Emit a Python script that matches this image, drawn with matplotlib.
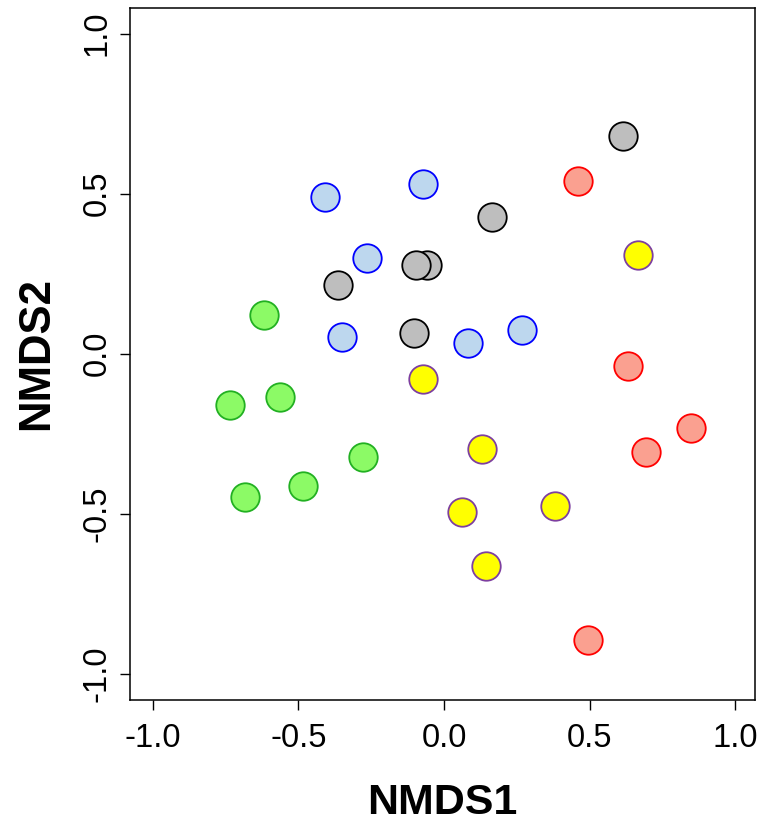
import numpy as np
from matplotlib import pyplot as plt

plt.rcParams['font.family'] = ['Liberation Sans', 'DejaVu Sans']

# NMDS scores, one group per colour
gray_x = [0.614, 0.165, -0.058, -0.096, -0.364, -0.103]
gray_y = [0.680, 0.427, 0.277, 0.277, 0.215, 0.065]

blue_x = [-0.409, -0.072, -0.264, -0.350, 0.082, 0.268]
blue_y = [0.490, 0.530, 0.299, 0.052, 0.033, 0.074]

green_x = [-0.618, -0.735, -0.563, -0.278, -0.484, -0.683]
green_y = [0.121, -0.160, -0.135, -0.323, -0.414, -0.448]

yellow_x = [0.666, -0.072, 0.130, 0.381, 0.062, 0.144]
yellow_y = [0.308, -0.079, -0.298, -0.476, -0.495, -0.663]

red_x = [0.460, 0.632, 0.848, 0.693, 0.494]
red_y = [0.540, -0.038, -0.232, -0.307, -0.895]

ticks = [-1.0, -0.5, 0.0, 0.5, 1.0]
tick_labels = ["-1.0", "-0.5", "0.0", "0.5", "1.0"]

groups = [
    (gray_x, gray_y, "#bebebe", "black"),
    (blue_x, blue_y, "#bdd7ee", "#0000ff"),
    (green_x, green_y, "#8cfa66", "#22b022"),
    (yellow_x, yellow_y, "#ffff00", "#7d3fa0"),
    (red_x, red_y, "#faa090", "#ff0000"),
]

fig = plt.figure(figsize=(7.69, 8.23), dpi=100)
ax = fig.add_axes([130 / 769, 1 - 700 / 823, 625 / 769, 692 / 823])

for xs, ys, fc, ec in groups:
    ax.scatter(xs, ys, s=420, c=fc, edgecolors=ec, linewidths=1.3, zorder=3)

ax.set_xlim(-1.078, 1.068)
ax.set_ylim(-1.082, 1.080)

ax.set_xticks(ticks)
ax.set_xticklabels(tick_labels)
ax.set_yticks(ticks)
ax.set_yticklabels(tick_labels, rotation=90, va="center")

ax.tick_params(axis="both", direction="out", length=7.5, width=1, labelsize=23.5)
ax.tick_params(axis="x", pad=9)
ax.tick_params(axis="y", pad=5)
for sp in ax.spines.values():
    sp.set_linewidth(1.1)

ax.set_xlabel("NMDS1", fontsize=31, fontweight="bold")
ax.set_ylabel("NMDS2", fontsize=31.5, fontweight="bold")
ax.xaxis.set_label_coords(0.5, -0.12)
ax.yaxis.set_label_coords(-0.117, 0.5)

fig.savefig("out.png", dpi=100)
